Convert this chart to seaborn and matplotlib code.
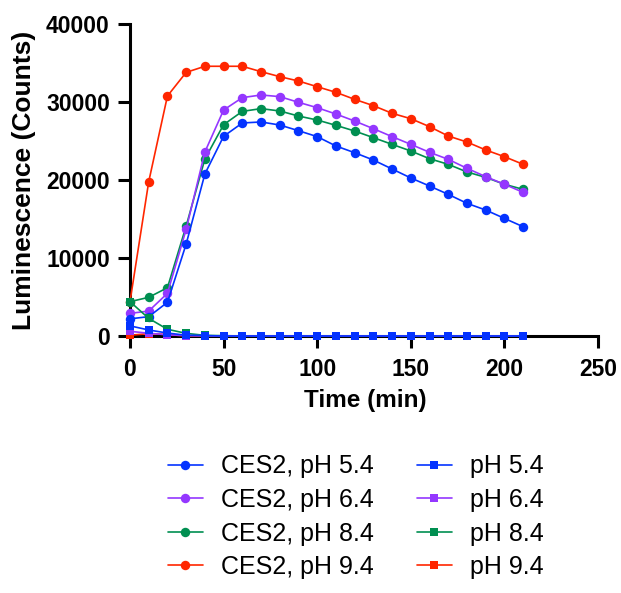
import matplotlib
matplotlib.use('Agg')
import matplotlib.pyplot as plt
import seaborn as sns
import pandas as pd

# время, мин
time_min = [0, 10, 20, 30, 40, 50, 60, 70, 80, 90, 100,
            110, 120, 130, 140, 150, 160, 170, 180, 190, 200, 210]

# CES2 (круглые маркеры)
ces2_ph54 = [2200, 2480, 4320, 11790, 20770, 25600, 27310, 27440, 27050, 26320, 25560,
             24360, 23500, 22560, 21410, 20260, 19230, 18160, 17010, 16150, 15080, 14010]
ces2_ph64 = [2900, 3200, 5470, 13670, 23590, 28970, 30560, 30900, 30690, 29960, 29270,
             28460, 27560, 26580, 25560, 24570, 23550, 22650, 21500, 20430, 19450, 18420]
ces2_ph84 = [4400, 4960, 6190, 14100, 22690, 27090, 28800, 29150, 28850, 28200, 27690,
             27010, 26280, 25430, 24570, 23720, 22730, 22010, 21030, 20340, 19450, 18800]
ces2_ph94 = [4400, 19780, 30770, 33800, 34580, 34580, 34580, 33890, 33250, 32690, 31960,
             31240, 30340, 29530, 28550, 27860, 26840, 25640, 24870, 23850, 22990, 22010]

# без фермента (квадратные маркеры)
ph54 = [1300, 770, 380, 100, 50, 0, 0, 0, 0, 0, 0,
        0, 0, 0, 0, 0, 0, 0, 0, 0, 0, 0]
ph64 = [600, 350, 150, 50, 30, 0, 0, 0, 0, 0, 0,
        0, 0, 0, 0, 0, 0, 0, 0, 0, 0, 0]
ph84 = [4400, 2260, 860, 340, 80, 40, 0, 0, 0, 0, 0,
        0, 0, 0, 0, 0, 0, 0, 0, 0, 0, 0]
ph94 = [100, 300, 200, 0, 0, 0, 0, 0, 0, 0, 0,
        0, 0, 0, 0, 0, 0, 0, 0, 0, 0, 0]

labels_ces2 = ['CES2, pH 5.4', 'CES2, pH 6.4', 'CES2, pH 8.4', 'CES2, pH 9.4']
labels_ctrl = ['pH 5.4', 'pH 6.4', 'pH 8.4', 'pH 9.4']
colors = ['#0433FF', '#9437FF', '#008F51', '#FF2600']

sns.set_style('ticks')
plt.rcParams['font.family'] = ['Liberation Sans', 'DejaVu Sans']
plt.rcParams['text.color'] = 'black'
plt.rcParams['axes.labelcolor'] = 'black'
plt.rcParams['xtick.color'] = 'black'
plt.rcParams['ytick.color'] = 'black'
plt.rcParams['axes.edgecolor'] = 'black'

fig = plt.figure(figsize=(6.21, 5.93), dpi=100)
ax = fig.add_axes([130 / 621, 1 - 336 / 593, 468 / 621, 312 / 593])

ces2_series = [ces2_ph54, ces2_ph64, ces2_ph84, ces2_ph94]
ctrl_series = [ph54, ph64, ph84, ph94]

# рисуем в обратном порядке, чтобы синие были сверху
for i in reversed(range(4)):
    df = pd.DataFrame({'t': time_min, 'y': ces2_series[i]})
    sns.lineplot(data=df, x='t', y='y', ax=ax, color=colors[i], marker='o',
                 markersize=6.8, markeredgewidth=0, linewidth=1.2,
                 clip_on=False, zorder=3 + (3 - i), label=labels_ces2[i])
for i in reversed(range(4)):
    df = pd.DataFrame({'t': time_min, 'y': ctrl_series[i]})
    sns.lineplot(data=df, x='t', y='y', ax=ax, color=colors[i], marker='s',
                 markersize=6.3, markeredgewidth=0, linewidth=1.2,
                 clip_on=False, zorder=8 + (3 - i), label=labels_ctrl[i])

h, l = ax.get_legend_handles_labels()
ax.get_legend().remove()
order = labels_ces2 + labels_ctrl
hl = dict(zip(l, h))

ax.set_xlim(0, 250)
ax.set_ylim(0, 40000)
ax.set_xticks([0, 50, 100, 150, 200, 250])
ax.set_yticks([0, 10000, 20000, 30000, 40000])
sns.despine(ax=ax)
for s in ['left', 'bottom']:
    ax.spines[s].set_linewidth(2.2)
ax.tick_params(width=2.2, length=8.5, labelsize=16.5)
ax.tick_params(axis='x', pad=7.5)
ax.tick_params(axis='y', pad=6)
for lab in ax.get_xticklabels() + ax.get_yticklabels():
    lab.set_fontweight('bold')

ax.set_xlabel('Time (min)', fontsize=17.5, fontweight='bold')
ax.set_ylabel('Luminescence (Counts)', fontsize=19, fontweight='bold')
ax.xaxis.set_label_coords(0.502, -0.17)
ax.yaxis.set_label_coords(-0.200, 0.5)

fig.legend([hl[k] for k in order], order, loc='upper center',
           bbox_to_anchor=(0.573, 1 - 432 / 593), ncol=2, frameon=False,
           fontsize=18, handlelength=1.4, handletextpad=0.75,
           columnspacing=1.7, labelspacing=0.38)

fig.savefig('out.png', dpi=100)
